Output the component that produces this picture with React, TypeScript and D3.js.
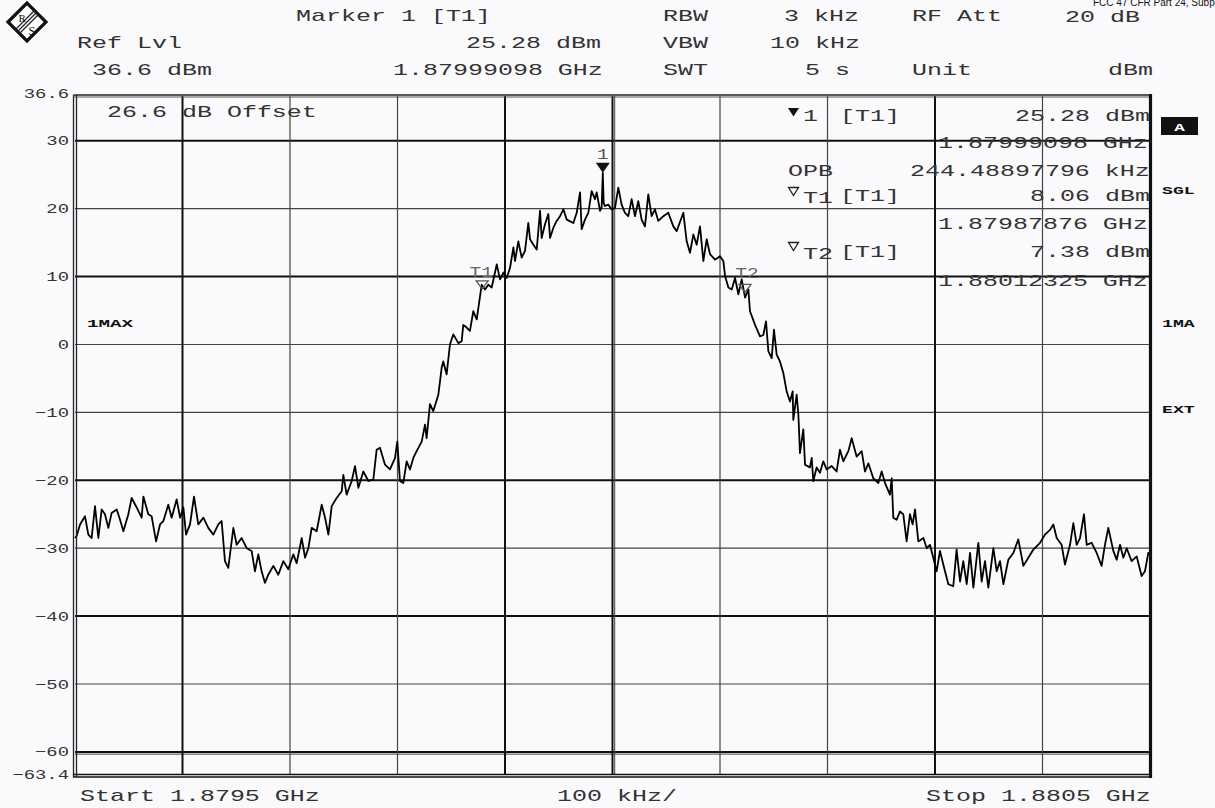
import React from 'react';
import * as d3 from 'd3';

// ---------- data ----------
const spanKHz = [0, 1000]; // 1.8795 GHz .. 1.8805 GHz
const levelRange = [-63.4, 36.6];
const yGridValues = [30, 20, 10, 0, -10, -20, -30, -40, -50, -60];
const yHeavy = [30, 10, -20, -40, -60];
const yLabelValues = [36.6, 30, 20, 10, 0, -10, -20, -30, -40, -50, -60, -63.4];
const xGridKHz = [100, 200, 300, 400, 500, 600, 700, 800, 900];
const xHeavy = [100, 400, 500, 800];

const traceKHz = [
  0, 1.5, 4.7, 9.3, 12.4, 15.5, 18.6, 21.7, 24.8, 27.9, 31.0, 34.1, 38.8, 41.9, 45.0, 49.6, 52.7, 57.4, 62.0, 63.6,
  68.2, 71.3, 75.4, 79.1, 82.2, 86.8, 89.9, 94.6, 97.7, 100.8, 103.3, 107.0, 110.7, 114.7, 119.4, 124.0, 128.7, 133.3, 136.4, 139.5,
  142.6, 147.3, 150.4, 155.0, 159.7, 164.3, 167.4, 170.5, 173.6, 176.7, 179.8, 184.5, 189.1, 193.8, 198.4, 203.1, 206.2, 210.9, 214.0, 217.1,
  220.2, 224.8, 229.5, 232.6, 235.7, 238.8, 243.4, 248.1, 249.6, 252.7, 257.4, 260.5, 263.6, 268.2, 272.9, 277.5, 280.6, 283.7, 288.4, 293.0,
  297.7, 299.8, 302.3, 305.4, 308.5, 311.6, 314.7, 317.8, 322.5, 325.6, 327.1, 330.2, 333.3, 338.0, 341.1, 342.6, 345.7, 348.8, 351.9, 356.6,
  359.7, 361.2, 364.3, 367.4, 370.5, 373.7, 378.3, 381.4, 384.5, 387.6, 390.7, 392.3, 395.4, 398.5, 401.6, 404.7, 407.8, 409.3, 412.4, 415.5,
  418.6, 421.7, 423.3, 426.4, 429.5, 432.6, 434.1, 437.2, 440.3, 441.9, 445.0, 448.1, 451.2, 454.3, 457.4, 463.6, 466.7, 469.8, 471.3, 474.4,
  477.5, 480.6, 483.7, 485.3, 488.4, 489.9, 490.98, 491.8, 493.0, 496.1, 499.2, 502.3, 505.4, 508.5, 511.6, 514.7, 517.8, 520.9, 524.0, 527.1,
  530.2, 533.3, 536.4, 539.5, 542.6, 547.3, 551.9, 556.6, 559.7, 565.9, 569.0, 572.1, 575.2, 578.3, 581.4, 584.5, 587.6, 590.7, 595.4, 600.0,
  603.1, 604.7, 607.8, 610.9, 614.0, 617.1, 620.2, 623.3, 626.4, 627.9, 632.6, 637.2, 640.3, 642.8, 645.0, 648.1, 650.2, 652.7, 655.8, 658.9,
  662.0, 665.1, 667.6, 668.2, 671.3, 672.9, 674.4, 677.5, 679.1, 683.7, 685.3, 686.8, 689.9, 693.0, 696.1, 699.2, 703.9, 708.5, 711.6, 714.7,
  719.4, 722.5, 727.1, 731.8, 734.9, 738.0, 742.6, 747.3, 750.4, 753.5, 758.1, 759.7, 761.2, 764.3, 767.4, 770.5, 773.6, 776.7, 779.2, 781.4,
  784.5, 789.2, 792.3, 795.3, 798.4, 801.5, 804.6, 809.3, 812.4, 817.0, 820.1, 823.3, 826.3, 829.5, 832.6, 835.7, 840.3, 843.4, 846.5, 849.6,
  854.3, 857.4, 860.5, 863.6, 868.2, 872.9, 877.5, 882.2, 886.8, 891.5, 897.7, 902.3, 907.0, 910.1, 913.2, 917.8, 920.9, 925.6, 928.7, 931.8,
  934.9, 938.6, 941.1, 945.7, 950.4, 955.0, 958.1, 961.2, 965.9, 969.0, 972.1, 975.2, 978.3, 982.9, 987.6, 992.2, 995.3, 998.4, 1000,
];

const traceDbm = [
  -28.5, -28.2, -26.5, -25.3, -28.0, -28.5, -23.8, -28.5, -24.3, -25.0, -27.0, -24.8, -24.3, -25.8, -27.5, -25.0, -22.6, -24.0, -25.5, -22.4,
  -25.0, -25.3, -29.0, -26.5, -26.0, -23.6, -25.5, -22.8, -25.5, -24.0, -28.0, -26.5, -22.4, -26.5, -25.5, -27.0, -28.0, -26.5, -26.0, -31.9,
  -32.9, -27.0, -29.5, -28.5, -30.0, -30.4, -33.4, -30.9, -33.4, -35.1, -33.9, -32.6, -33.9, -31.9, -33.1, -30.9, -32.2, -28.5, -31.4, -30.0,
  -27.0, -27.5, -23.6, -25.5, -28.0, -23.8, -22.6, -21.6, -19.2, -22.1, -20.1, -17.9, -21.1, -18.7, -20.1, -19.9, -15.5, -15.2, -17.7, -18.4,
  -16.7, -14.3, -20.1, -20.4, -17.2, -18.4, -16.7, -15.7, -14.3, -11.8, -13.8, -8.8, -9.8, -7.4, -3.4, -2.5, -4.4, 0.0, 1.5, 0.2,
  0.5, 2.9, 2.5, 2.0, 4.9, 3.7, 8.8, 8.1, 8.8, 8.4, 10.6, 11.8, 9.6, 10.6, 9.8, 11.3, 14.3, 12.3, 15.2, 12.8,
  13.8, 17.9, 15.5, 14.7, 14.0, 19.7, 15.7, 17.7, 19.2, 15.7, 17.2, 18.2, 18.9, 19.9, 18.4, 17.9, 19.4, 22.4, 17.0, 18.4,
  19.4, 22.6, 21.4, 22.4, 19.7, 20.2, 25.28, 20.8, 20.4, 20.6, 19.9, 20.1, 23.1, 20.6, 19.4, 18.9, 21.4, 18.9, 21.1, 18.4,
  17.4, 22.1, 18.9, 19.9, 18.2, 18.9, 19.4, 17.4, 16.7, 19.4, 15.2, 13.5, 16.2, 14.7, 17.4, 12.3, 15.5, 13.3, 12.5, 13.0,
  12.3, 10.1, 8.4, 8.1, 9.8, 7.4, 9.6, 6.9, 8.1, 4.9, 2.9, 1.2, 1.4, 3.4, -1.0, -2.0, 2.2, -1.5, -2.5, -4.2,
  -6.9, -8.4, -6.9, -11.1, -7.4, -10.3, -16.0, -12.5, -17.7, -18.1, -16.7, -20.1, -18.1, -18.9, -17.2, -18.4, -17.9, -18.7, -15.5, -17.2,
  -15.7, -13.8, -16.5, -15.7, -18.7, -17.5, -19.7, -20.4, -18.7, -20.4, -22.1, -19.7, -25.5, -25.8, -24.6, -25.0, -29.0, -25.0, -26.5, -24.3,
  -29.0, -28.5, -30.0, -29.5, -31.4, -33.4, -30.4, -33.4, -35.3, -35.6, -30.2, -34.9, -31.9, -35.3, -30.7, -35.8, -29.2, -34.9, -31.9, -35.8,
  -30.0, -33.4, -31.9, -35.3, -31.7, -30.7, -28.7, -32.6, -31.4, -30.2, -29.2, -28.0, -27.3, -26.5, -28.5, -29.5, -32.4, -29.5, -26.3, -29.5,
  -28.5, -25.0, -29.5, -29.2, -30.7, -32.6, -29.5, -27.0, -30.4, -31.7, -29.5, -31.4, -30.0, -31.9, -31.2, -34.1, -33.4, -30.7, -30.7,
];

const marker1 = { kHz: 490.98, dbm: 25.28 };
const markerT1 = { kHz: 378.76, dbm: 8.06 };
const markerT2 = { kHz: 623.25, dbm: 7.38 };

const MONO = "'Liberation Mono', 'DejaVu Sans Mono', monospace";
const TXT = '#333';

type TProps = {
  x: number; y: number; t: string; size?: number; sx?: number; anchor?: string;
  fill?: string; weight?: string | number; family?: string;
};
function MT({ x, y, t, size = 17, sx = 1.47, anchor = 'start', fill = TXT, weight = 'normal', family = MONO }: TProps) {
  return (
    <text
      transform={`translate(${x},${y}) scale(${sx},1)`}
      fontFamily={family}
      fontSize={size}
      fontWeight={weight}
      fill={fill}
      textAnchor={anchor as any}
      style={{ whiteSpace: 'pre' }}
    >
      {t}
    </text>
  );
}

function fmtLevel(v: number) {
  const s = Math.abs(v).toString();
  return v < 0 ? '\u2212' + s : s;
}

export default function App() {
  const W = 1215, H = 808;
  const x = d3.scaleLinear().domain(spanKHz).range([75, 1150]);
  const y = d3.scaleLinear().domain(levelRange).range([775, 96]);
  const line = d3.line<number>()
    .x((_, i) => x(traceKHz[i]))
    .y((d) => y(d));
  const tracePath = line(traceDbm) || '';

  const m1x = x(marker1.kHz), m1y = y(marker1.dbm);
  const t1x = x(markerT1.kHz), t1y = y(markerT1.dbm);
  const t2x = x(markerT2.kHz), t2y = y(markerT2.dbm);

  const boldSmall = { size: 11, sx: 1.75, weight: 'bold' as any, fill: '#111' };

  return (
    <svg width={W} height={H} style={{ position: 'absolute', left: 0, top: 0, background: '#fafafc' }}>
      <rect x={0} y={0} width={W} height={H} fill="#fafafc" />

      {/* R&S logo */}
      <g transform="translate(27,22)">
        <path d="M-19,0 L0,-19 L19,0 L0,19 Z" fill="#fff" stroke="#111" strokeWidth={3.2} strokeLinejoin="miter" />
        {[-2, 0, 2].map((k) => (
          <line key={k} x1={-9.5 + k} y1={9.5 + k} x2={9.5 + k} y2={-9.5 + k} stroke="#222" strokeWidth={1.2} />
        ))}
        <text x={-8.5} y={-0.5} fontFamily="'Liberation Serif', serif" fontSize={11} fill="#111">R</text>
        <text x={1.5} y={13} fontFamily="'Liberation Serif', serif" fontSize={12} fill="#111">S</text>
      </g>

      {/* top-right caption (runs off the page edge as in the original) */}
      <text x={1093} y={6} fontFamily="'Liberation Sans', Arial, sans-serif" fontSize={10} fill="#111">
        FCC 47 CFR Part 24, Subpart E
      </text>

      {/* header */}
      <MT x={296} y={21} t="Marker 1 [T1]" />
      <MT x={663} y={21} t="RBW" />
      <MT x={784} y={21} t="3 kHz" />
      <MT x={912} y={21} t="RF Att" />
      <MT x={1065} y={22} t="20 dB" />

      <MT x={77} y={48} t="Ref Lvl" />
      <MT x={466} y={48} t="25.28 dBm" />
      <MT x={663} y={48} t="VBW" />
      <MT x={770} y={48} t="10 kHz" />

      <MT x={92} y={75} t="36.6 dBm" />
      <MT x={393} y={75} t="1.87999098 GHz" />
      <MT x={663} y={75} t="SWT" />
      <MT x={805} y={75} t="5 s" />
      <MT x={912} y={75} t="Unit" />
      <MT x={1108} y={75} t="dBm" />

      {/* y labels */}
      {yLabelValues.map((v) => (
        <MT key={v} x={69} y={(v === 36.6 ? 93 : v === -63.4 ? 774 : y(v)) + 4.5} t={fmtLevel(v)} size={13} sx={1.45} anchor="end" fill="#333" />
      ))}

      {/* grid */}
      {yGridValues.map((v) => (
        <line key={'h' + v} x1={75} x2={1150} y1={y(v)} y2={y(v)}
          stroke={yHeavy.includes(v) ? '#111' : '#444'} strokeWidth={yHeavy.includes(v) ? 2 : 1.2} />
      ))}
      <line x1={75} x2={1150} y1={y(-60) + 2.2} y2={y(-60) + 2.2} stroke="#444" strokeWidth={1} />
      {xGridKHz.map((k) => (
        <line key={'v' + k} y1={96} y2={775} x1={x(k)} x2={x(k)}
          stroke={xHeavy.includes(k) ? '#111' : '#444'} strokeWidth={xHeavy.includes(k) ? 2 : 1.2} />
      ))}
      <line y1={96} y2={775} x1={x(500) + 2.2} x2={x(500) + 2.2} stroke="#444" strokeWidth={1} />

      {/* in-plot texts */}
      <MT x={107} y={117} t="26.6 dB Offset" />
      <MT x={87} y={327} t="1MAX" {...boldSmall} />

      {/* marker table */}
      <path d="M788,108 L799,108 L793.5,116.5 Z" fill="#111" />
      <MT x={803} y={121} t="1" />
      <MT x={840} y={121} t="[T1]" />
      <MT x={1015} y={121} t="25.28 dBm" />
      <MT x={938} y={148} t="1.87999098 GHz" />
      <MT x={788} y={176} t="OPB" />
      <MT x={910} y={176} t="244.48897796 kHz" />
      <path d="M788.5,187.5 L798.5,187.5 L793.5,195.5 Z" fill="none" stroke="#222" strokeWidth={1.3} />
      <MT x={803} y={203} t="T1" />
      <MT x={840} y={201} t="[T1]" />
      <MT x={1030} y={201} t="8.06 dBm" />
      <MT x={938} y={229} t="1.87987876 GHz" />
      <path d="M788.5,242.5 L798.5,242.5 L793.5,250.5 Z" fill="none" stroke="#222" strokeWidth={1.3} />
      <MT x={803} y={259} t="T2" />
      <MT x={840} y={257} t="[T1]" />
      <MT x={1030} y={257} t="7.38 dBm" />
      <MT x={938} y={286} t="1.88012325 GHz" />

      {/* trace */}
      <path d={tracePath} fill="none" stroke="#000" strokeWidth={1.8} strokeLinejoin="round" />

      {/* markers on trace */}
      <path d={`M${m1x - 7},${m1y - 10} L${m1x + 7},${m1y - 10} L${m1x},${m1y} Z`} fill="#111" />
      <MT x={m1x} y={m1y - 14} t="1" size={15} sx={1.3} anchor="middle" fill="#555" />
      <path d={`M${t1x - 6},${t1y - 9} L${t1x + 6},${t1y - 9} L${t1x},${t1y - 1} Z`} fill="none" stroke="#555" strokeWidth={1.3} />
      <MT x={t1x - 1} y={t1y - 13} t="T1" size={15} sx={1.3} anchor="middle" fill="#666" />
      <path d={`M${t2x - 6},${t2y - 10} L${t2x + 6},${t2y - 10} L${t2x},${t2y - 2} Z`} fill="none" stroke="#555" strokeWidth={1.3} />
      <MT x={t2x + 2} y={t2y - 16} t="T2" size={15} sx={1.3} anchor="middle" fill="#666" />

      {/* frame */}
      <line x1={73.5} x2={73.5} y1={95} y2={777} stroke="#222" strokeWidth={1.3} />
      <line x1={76.5} x2={76.5} y1={95} y2={777} stroke="#222" strokeWidth={1.3} />
      <line x1={73.5} x2={1151} y1={95} y2={95} stroke="#222" strokeWidth={1.3} />
      <line x1={73.5} x2={1151} y1={97} y2={97} stroke="#555" strokeWidth={1} />
      <line x1={1150.5} x2={1150.5} y1={94} y2={778} stroke="#111" strokeWidth={3.2} />
      <line x1={73} x2={1152} y1={774.5} y2={774.5} stroke="#111" strokeWidth={1.6} />
      <line x1={73} x2={1152} y1={777} y2={777} stroke="#111" strokeWidth={1.6} />

      {/* right status labels */}
      <rect x={1161} y={117} width={37} height={18} fill="#111" />
      <MT x={1179.5} y={130.5} t="A" size={11} sx={1.6} anchor="middle" weight="bold" fill="#fff" />
      <MT x={1162} y={194} t="SGL" {...boldSmall} sx={1.65} />
      <MT x={1162} y={327} t="1MA" {...boldSmall} sx={1.65} />
      <MT x={1162} y={413} t="EXT" {...boldSmall} sx={1.65} />

      {/* bottom labels */}
      <MT x={80} y={801} t="Start 1.8795 GHz" />
      <MT x={557} y={801} t="100 kHz/" />
      <MT x={926} y={801} t="Stop 1.8805 GHz" />
    </svg>
  );
}
